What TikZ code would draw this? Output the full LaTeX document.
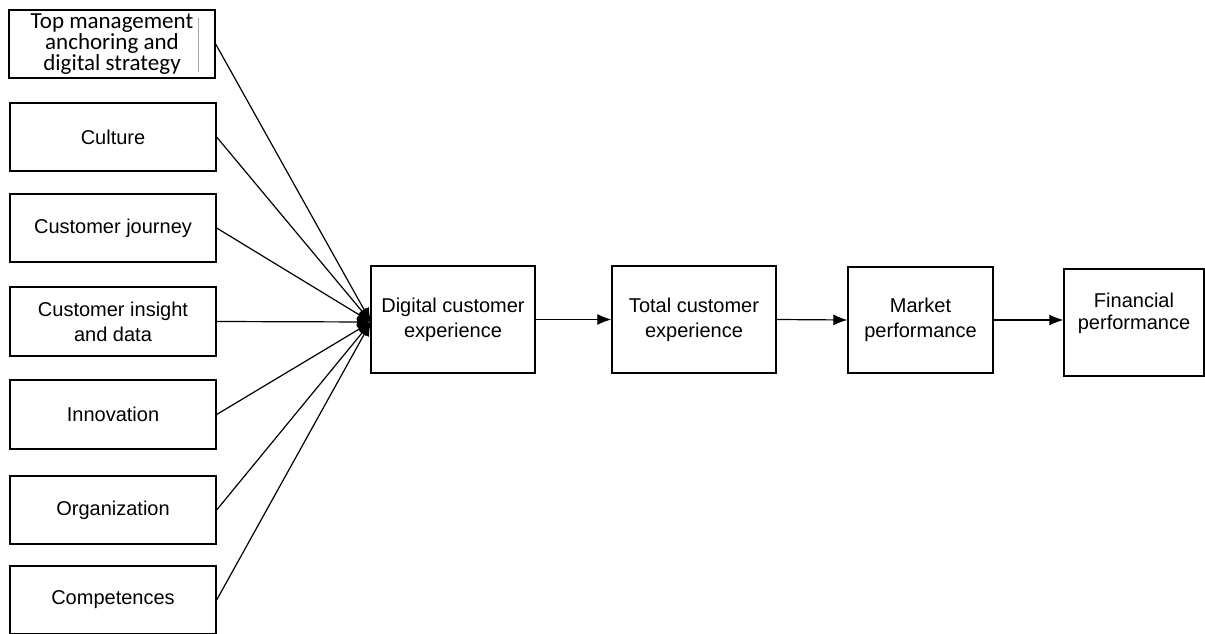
\documentclass[tikz,border=0pt]{standalone}
\usepackage{fontspec}
\setmainfont{Liberation Sans}
\newfontfamily\carl{Carlito}
\usetikzlibrary{arrows.meta}
\begin{document}
\begin{tikzpicture}[x=1pt,y=-1pt,
 box/.style={draw, line width=1.3pt, align=center, inner sep=0pt, font=\fontsize{20}{25}\selectfont},
 lbox/.style={box, minimum width=206pt, minimum height=68pt},
 rbox/.style={box, minimum width=164pt, minimum height=107pt},
 conn/.style={line width=1.2pt},
 arr/.style={conn, -{Latex[length=14pt,width=11pt]}}]
\useasboundingbox (0,0) rectangle (1205,634);
% left column
\node[lbox, font=\carl\fontsize{23}{19}\selectfont] (b1) at (112,44) {Top management\\anchoring and\\digital strategy};
\draw[gray!70, line width=0.6pt] (198,18) -- (198,72);
\node[lbox] (b2) at (113,137) {Culture};
\node[lbox] (b3) at (113,228) {Customer journey};
\node[lbox, minimum height=69pt] (b4) at (113,321.5) {Customer insight\\and data};
\node[lbox, minimum height=69pt] (b5) at (113,414.5) {Innovation};
\node[lbox] (b6) at (113,510) {Organization};
\node[lbox] (b7) at (113,600) {Competences};
% chain
\node[rbox] (dce) at (453,319.5) {Digital customer\\experience};
\node[rbox] (tce) at (694,319.5) {Total customer\\experience};
\node[rbox, minimum width=145pt, minimum height=106pt] (mp) at (920.5,320) {Market\\performance};
\node[box, minimum width=140pt, minimum height=107pt] (fp) at (1134,322.5) {};
\node[font=\fontsize{20}{22}\selectfont, align=center, inner sep=0pt] (fpt) at (1134,313) {Financial\\performance};
\coordinate (conv) at (371,322);
\foreach \b in {b1,b2,b3,b4,b5,b6,b7}
  \draw[arr] (\b.east) -- (conv);
\draw[arr] (dce.east) -- (tce.west);
\draw[arr] (tce.east) -- (mp.west);
\draw[arr] (mp.east) -- (mp.east -| fp.west);
\end{tikzpicture}
\end{document}
